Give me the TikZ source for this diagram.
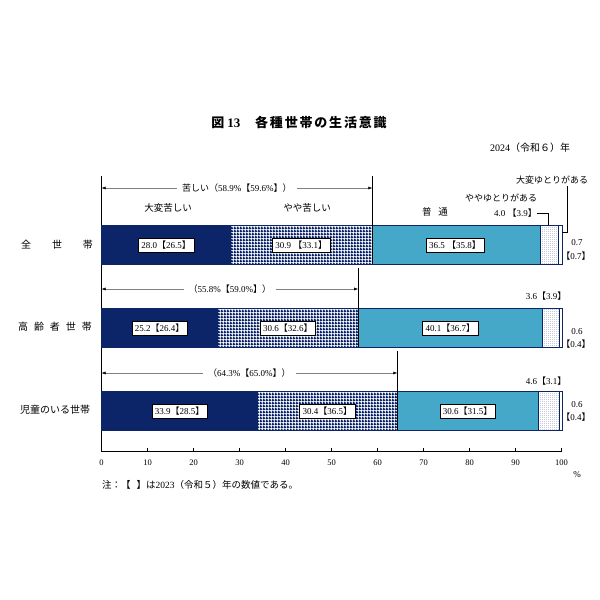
\documentclass[tikz,border=0pt]{standalone}
\usepackage{fontspec}
\setmainfont{Liberation Serif}
\newfontfamily\jp{Noto Sans CJK JP}
\newfontfamily\jpt[LetterSpace=14]{Noto Sans CJK JP}
\usetikzlibrary{arrows.meta,patterns.meta}
\definecolor{navyc}{RGB}{12,36,104}
\definecolor{cyanc}{RGB}{70,168,200}
\definecolor{dotc}{RGB}{120,130,165}
\tikzdeclarepattern{
  name=finecheck, type=uncolored,
  bottom left={(0pt,0pt)}, top right={(2.6pt,2.6pt)}, tile size={(2.6pt,2.6pt)},
  code={\pgfpathrectangle{\pgfpointorigin}{\pgfpoint{2.6pt}{1.5pt}}
        \pgfpathrectangle{\pgfpointorigin}{\pgfpoint{1.5pt}{2.6pt}}
        \pgfusepath{fill}}}
\tikzdeclarepattern{
  name=finedots, type=uncolored,
  bottom left={(0pt,0pt)}, top right={(2pt,2pt)}, tile size={(2pt,2pt)},
  code={\pgfpathrectangle{\pgfpointorigin}{\pgfpoint{1pt}{1pt}}
        \pgfusepath{fill}}}
\begin{document}
\begin{tikzpicture}[x=1pt,y=-1pt,
  segA/.style={draw=navyc,fill=navyc,line width=0.7pt},
  segB/.style={draw=navyc,line width=0.7pt,preaction={fill=white},pattern=finecheck,pattern color=navyc},
  segC/.style={draw=navyc,fill=cyanc,line width=0.7pt},
  segD/.style={draw=navyc,line width=0.7pt,preaction={fill=white},pattern=finedots,pattern color=dotc},
  segE/.style={draw=navyc,fill=white,line width=0.7pt},
  valbox/.style={draw=black,fill=white,line width=0.4pt,inner xsep=3pt,inner ysep=0pt,minimum height=14pt,font=\fontsize{9}{10}\selectfont},
  lbl/.style={inner sep=0pt,font=\fontsize{9.5}{11}\selectfont},
  small/.style={inner sep=0pt,font=\fontsize{9}{10}\selectfont},
  rowlbl/.style={inner sep=0pt,font=\fontsize{10}{12}\selectfont},
  vline/.style={line width=0.7pt},
  span/.style={draw=gray,line width=0.5pt,{Latex[length=4pt,width=3pt,black]}-{Latex[length=4pt,width=3pt,black]}},
  leader/.style={line width=0.6pt}]
\useasboundingbox[fill=white] (0,0) rectangle (600,600);

% title
\node[inner sep=0pt,font=\fontsize{13}{15}\selectfont\bfseries] (title) at (299,123) {{\jp 図}\hspace{3pt}13{\jpt 　各種世帯の生活意識}};
\node[lbl,font=\fontsize{10}{12}\selectfont] (year) at (530,148) {2024{\jp（令和６）年}};

% axis
\draw[line width=0.8pt] (101.5,176) -- (101.5,451) -- (561.5,451);
\foreach \k in {1,...,10} \draw[line width=0.6pt] (101.5+46*\k,451) -- (101.5+46*\k,448);
\foreach \k in {0,...,10} \node[small,font=\fontsize{8.5}{10}\selectfont] (t\k) at (101.5+46*\k,463) {\pgfmathparse{int(10*\k)}\pgfmathresult};
\node[small] (pct) at (577,475) {\%};

% row 1
\path[segA] (101.5,225) rectangle (230.3,264);
\path[segB] (230.3,225) rectangle (372.4,264);
\path[segC] (372.4,225) rectangle (540.3,264);
\path[segD] (540.3,225) rectangle (558.7,264);
\path[segE] (558.7,225) rectangle (562.0,264);
% row 2
\path[segA] (101.5,308) rectangle (217.4,347);
\path[segB] (217.4,308) rectangle (358.2,347);
\path[segC] (358.2,308) rectangle (542.6,347);
\path[segD] (542.6,308) rectangle (559.2,347);
\path[segE] (559.2,308) rectangle (562.0,347);
% row 3
\path[segA] (101.5,391) rectangle (257.4,430);
\path[segB] (257.4,391) rectangle (397.3,430);
\path[segC] (397.3,391) rectangle (538.0,430);
\path[segD] (538.0,391) rectangle (559.2,430);
\path[segE] (559.2,391) rectangle (562.0,430);

% row labels
\node[rowlbl] (r1) at (57,245) {\jp 全\hspace{21pt}世\hspace{21pt}帯};
\node[rowlbl] (r2) at (55,327) {\jp 高\hspace{6pt}齢\hspace{6pt}者\hspace{6pt}世\hspace{6pt}帯};
\node[rowlbl] (r3) at (55,410) {\jp 児童のいる世帯};

% value boxes
\node[valbox] (v11) at (166,245) {28.0{\jp【}26.5{\jp】}};
\node[valbox] (v12) at (301.3,245) {30.9~{\jp【}33.1{\jp】}};
\node[valbox] (v13) at (455,245) {36.5~{\jp【}35.8{\jp】}};
\node[valbox] (v21) at (159.5,328) {25.2{\jp【}26.4{\jp】}};
\node[valbox] (v22) at (287.8,328) {30.6{\jp【}32.6{\jp】}};
\node[valbox] (v23) at (450.4,328) {40.1{\jp【}36.7{\jp】}};
\node[valbox] (v31) at (179.5,411) {33.9{\jp【}28.5{\jp】}};
\node[valbox] (v32) at (327.3,411) {30.4{\jp【}36.5{\jp】}};
\node[valbox] (v33) at (467.6,411) {30.6{\jp【}31.5{\jp】}};

% span markers (vertical lines)
\coordinate (s1t) at (372.4,176); \coordinate (s1b) at (372.4,264);
\coordinate (s2t) at (358.2,268); \coordinate (s2b) at (358.2,347);
\coordinate (s3t) at (397.3,351); \coordinate (s3b) at (397.3,430);
\draw[vline] (s1t) -- (s1b);
\draw[vline] (s2t) -- (s2b);
\draw[vline] (s3t) -- (s3b);

% span arrows
\coordinate (a1l) at (101.5,188); \coordinate (a1r) at (372.4,188);
\coordinate (a2l) at (101.5,289); \coordinate (a2r) at (358.2,289);
\coordinate (a3l) at (101.5,373); \coordinate (a3r) at (397.3,373);
\draw[span] (a1l) -- (a1r) node[midway,fill=white,lbl,inner xsep=5pt,inner ysep=2pt,font=\fontsize{9}{10}\selectfont] (h1) {{\jp 苦しい（}58.9\%{\jp【}59.6\%{\jp】）}};
\draw[span] (a2l) -- (a2r) node[midway,fill=white,lbl,inner xsep=5pt,inner ysep=2pt,font=\fontsize{9}{10}\selectfont] (h2) {{\jp（}55.8\%{\jp【}59.0\%{\jp】）}};
\draw[span] (a3l) -- (a3r) node[midway,fill=white,lbl,inner xsep=5pt,inner ysep=2pt,font=\fontsize{9}{10}\selectfont] (h3) {{\jp（}64.3\%{\jp【}65.0\%{\jp】）}};

% category labels
\node[lbl] (c1) at (168,208) {\jp 大変苦しい};
\node[lbl] (c2) at (307,208) {\jp やや苦しい};
\node[lbl] (c3) at (435,212) {\jp 普\hspace{7pt}通};
\node[lbl,font=\fontsize{9}{11}\selectfont] (c4) at (501,198) {\jp ややゆとりがある};
\node[lbl,font=\fontsize{9}{11}\selectfont] (c5) at (552,180) {\jp 大変ゆとりがある};

% right-side small values
\node[small,anchor=east] (d1) at (537,213) {4.0~{\jp【}3.9{\jp】}};
\coordinate (d1k) at (548,213); \coordinate (d1e) at (548,225);
\draw[leader] (d1.east) -- (d1k) -- (d1e);
\coordinate (e1t) at (567,186); \coordinate (e1k) at (567,232); \coordinate (e1e) at (562,232);
\draw[leader] (e1t) -- (e1k) -- (e1e);
\node[small] (e1a) at (577,243) {0.7};
\node[small] (e1b) at (576,256) {{\jp【}0.7{\jp】}};

\node[small] (d2) at (546,296) {3.6{\jp【}3.9{\jp】}};
\node[small] (e2a) at (577,332) {0.6};
\node[small] (e2b) at (576,344) {{\jp【}0.4{\jp】}};

\node[small] (d3) at (546,381) {4.6{\jp【}3.1{\jp】}};
\node[small] (e3a) at (577,405) {0.6};
\node[small] (e3b) at (576,417) {{\jp【}0.4{\jp】}};

% note
\node[lbl,anchor=west,font=\fontsize{9.5}{11}\selectfont] (note) at (102,485) {{\jp 注：【\hspace{6pt}】は}2023{\jp（令和５）年の数値である。}};
\end{tikzpicture}
\end{document}
